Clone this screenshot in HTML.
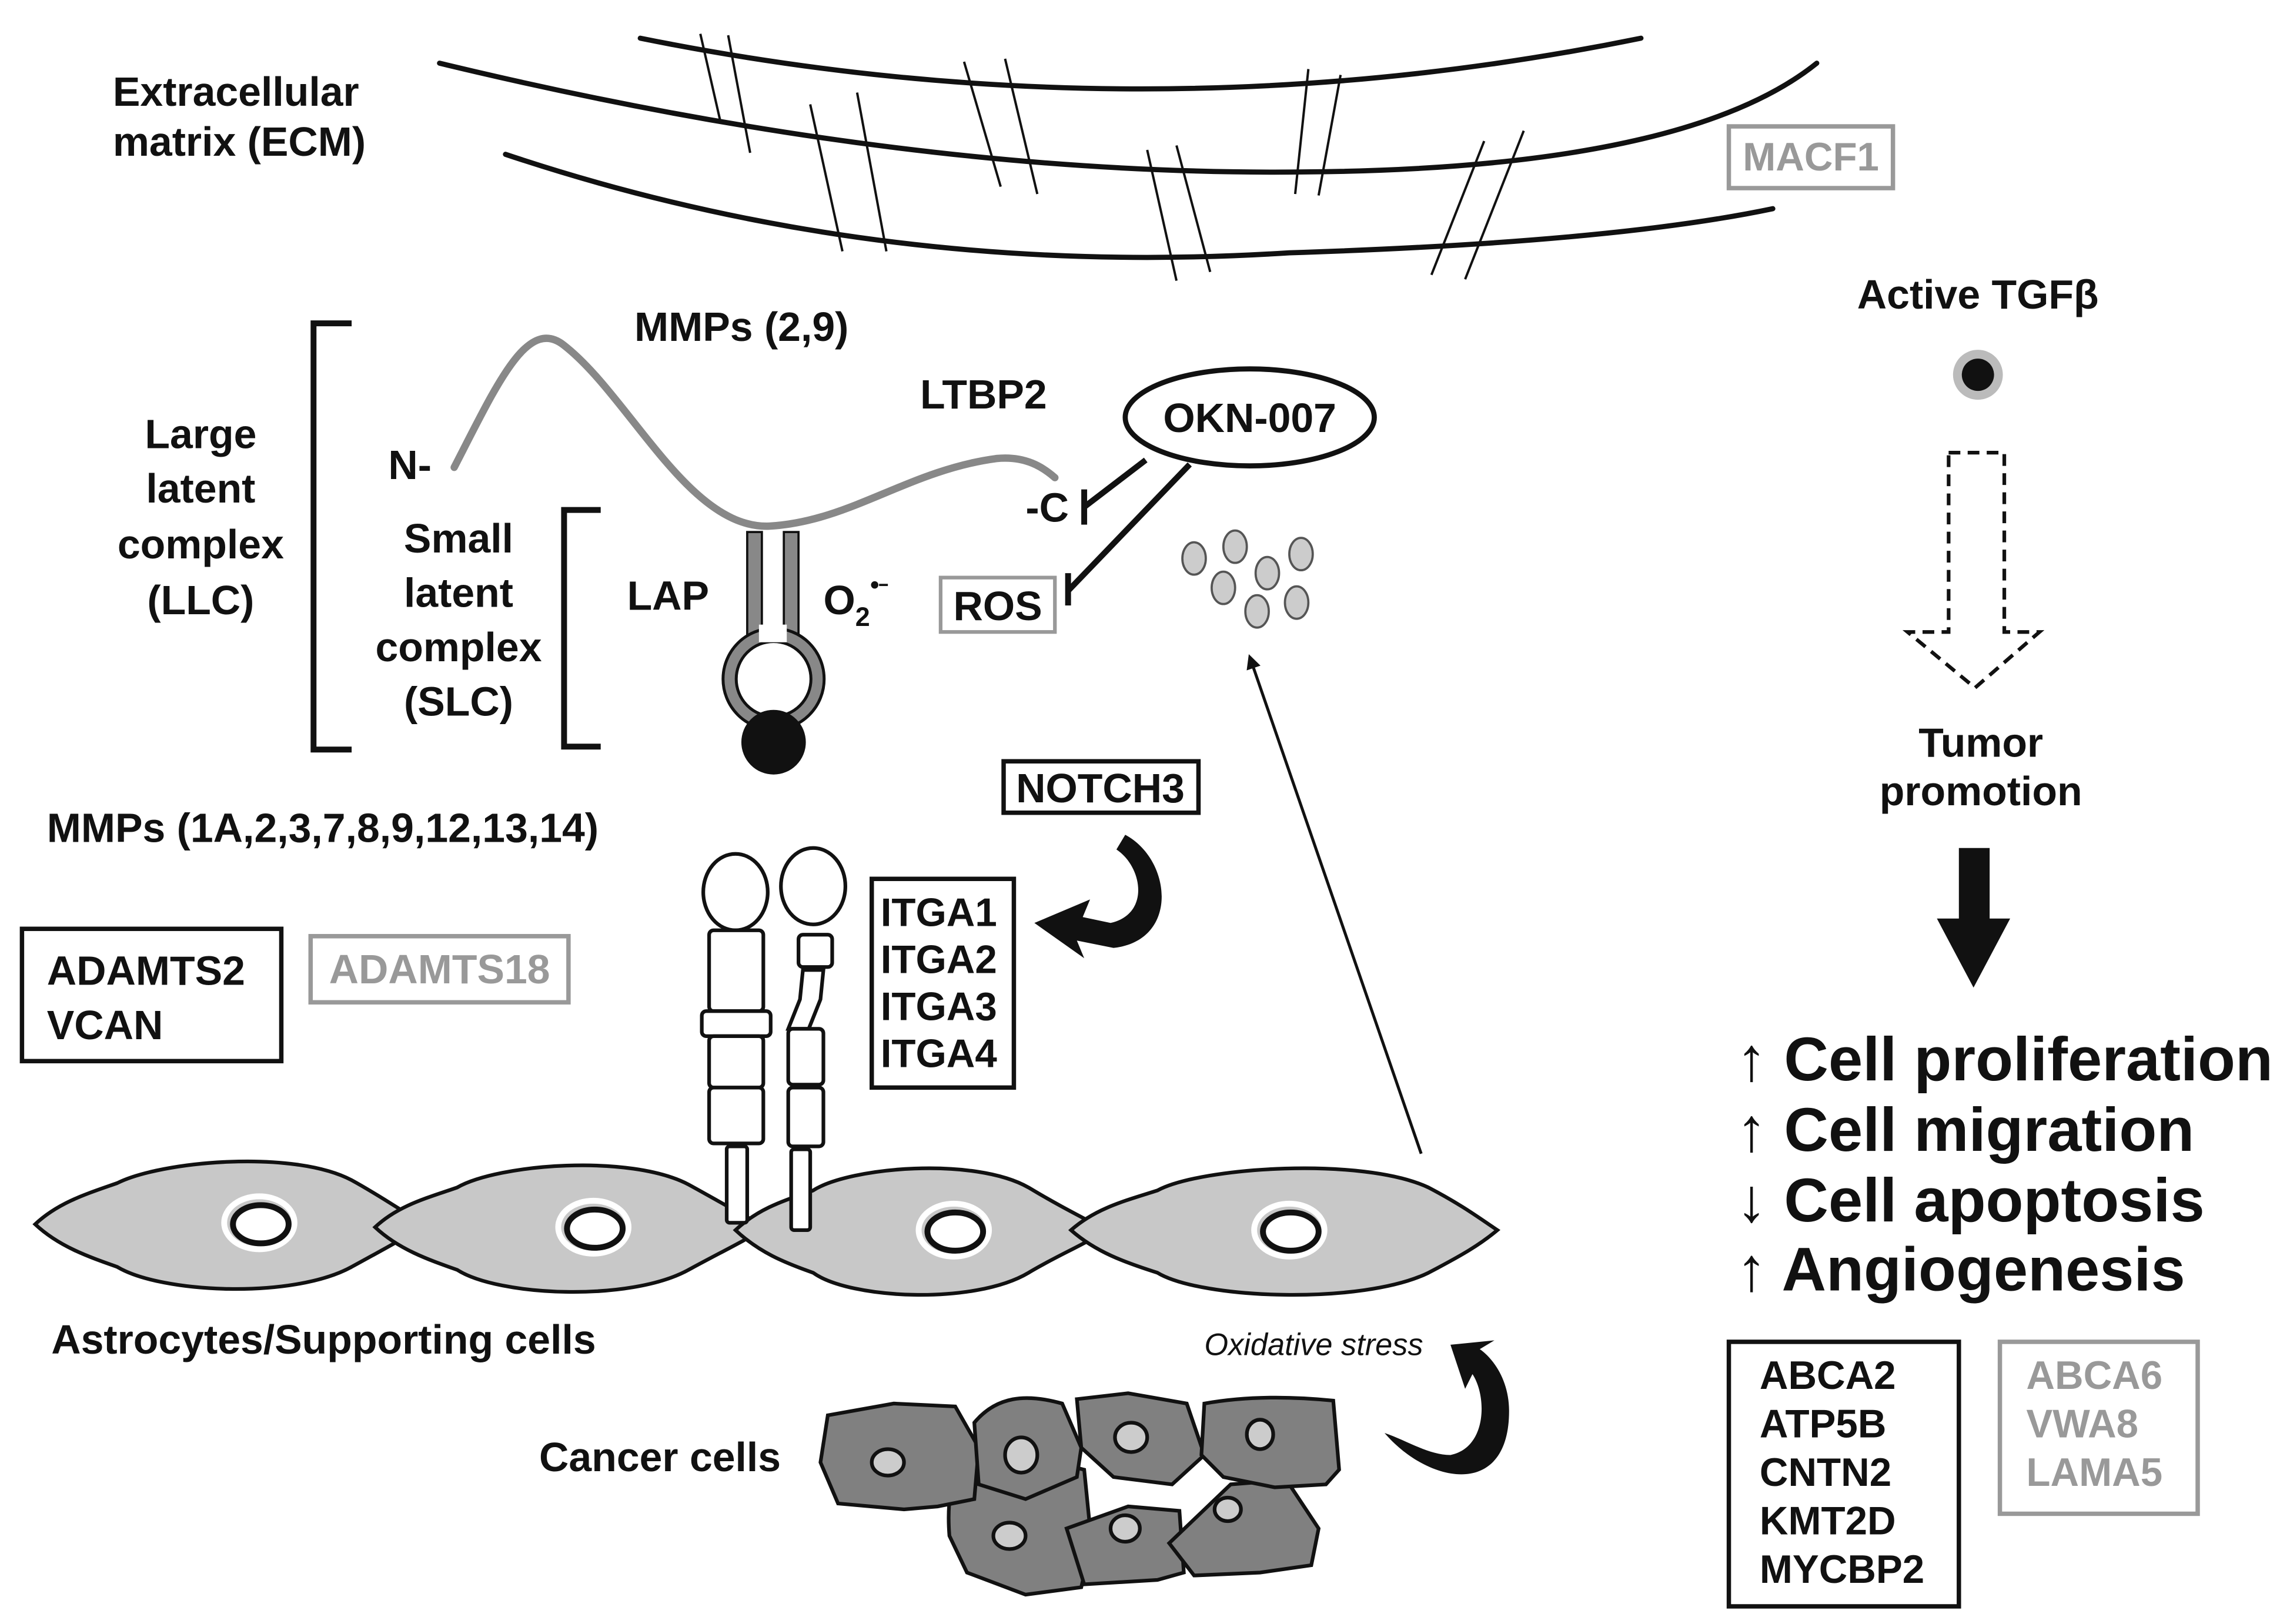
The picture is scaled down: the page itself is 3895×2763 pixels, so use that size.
<!DOCTYPE html>
<html><head><meta charset="utf-8"><style>
html,body{margin:0;padding:0;background:#fff;}
svg{display:block;}
text{font-family:"Liberation Sans",Arial,sans-serif;font-weight:bold;fill:#111;}
</style></head><body>
<svg width="3895" height="2763" viewBox="0 0 1563 1105" preserveAspectRatio="none" xmlns="http://www.w3.org/2000/svg">
<defs>
<marker id="ah" markerWidth="10" markerHeight="10" refX="8" refY="5" orient="auto" markerUnits="userSpaceOnUse"><path d="M0,0 L10,5 L0,10 Z" fill="#111"/></marker>
</defs>
<!-- ECM -->
<g fill="none" stroke="#111" stroke-width="3.5" stroke-linecap="round">
<path d="M437,26 Q780,95 1120,26"/>
<path d="M300,43 Q620,120 890,117 Q1150,115 1240,43"/>
<path d="M345,105 Q600,190 880,172 Q1100,165 1210,142"/>
</g>
<g stroke="#111" stroke-width="1.6">
<line x1="478" y1="23" x2="492" y2="84"/><line x1="497" y1="24" x2="512" y2="104"/>
<line x1="553" y1="71" x2="575" y2="171"/><line x1="585" y1="63" x2="605" y2="171"/>
<line x1="658" y1="42" x2="683" y2="127"/><line x1="686" y1="40" x2="708" y2="132"/>
<line x1="893" y1="47" x2="884" y2="132"/><line x1="915" y1="51" x2="900" y2="133"/>
<line x1="783" y1="102" x2="803" y2="191"/><line x1="803" y1="99" x2="826" y2="185"/>
<line x1="1013" y1="96" x2="977" y2="187"/><line x1="1040" y1="89" x2="1000" y2="190"/>
</g>
<text x="77" y="72" font-size="28">Extracellular</text>
<text x="77" y="106" font-size="28">matrix (ECM)</text>
<rect x="1180" y="86" width="112" height="42" fill="none" stroke="#999" stroke-width="3"/>
<text x="1236" y="116" font-size="27" text-anchor="middle" style="fill:#999">MACF1</text>

<!-- TGF side -->
<text x="1350" y="210" font-size="28" text-anchor="middle">Active TGFβ</text>
<circle cx="1350" cy="255" r="17" fill="#bbb"/><circle cx="1350" cy="255" r="11" fill="#111"/>
<path d="M1330,308 L1368,308 L1368,430 L1392,430 L1348,468 L1302,430 L1330,430 Z" fill="none" stroke="#111" stroke-width="2.5" stroke-dasharray="8,5"/>
<text x="1352" y="515" font-size="28" text-anchor="middle">Tumor</text>
<text x="1352" y="548" font-size="28" text-anchor="middle">promotion</text>
<path d="M1337,577 L1358,577 L1358,625 L1372,625 L1347,672 L1322,625 L1337,625 Z" fill="#111"/>
<g font-size="42">
<text x="1185" y="735">↑ Cell proliferation</text>
<text x="1185" y="783">↑ Cell migration</text>
<text x="1185" y="831">↓ Cell apoptosis</text>
<text x="1185" y="878">↑ Angiogenesis</text>
</g>
<rect x="1180" y="913" width="157" height="180" fill="none" stroke="#111" stroke-width="3"/>
<g font-size="27"><text x="1201" y="945">ABCA2</text><text x="1201" y="978">ATP5B</text><text x="1201" y="1011">CNTN2</text><text x="1201" y="1044">KMT2D</text><text x="1201" y="1077">MYCBP2</text></g>
<rect x="1365" y="913" width="135" height="117" fill="none" stroke="#999" stroke-width="3"/>
<g font-size="27"><text x="1383" y="945" style="fill:#999">ABCA6</text><text x="1383" y="978" style="fill:#999">VWA8</text><text x="1383" y="1011" style="fill:#999">LAMA5</text></g>

<!-- brackets -->
<path d="M240,220 L214,220 L214,510 L240,510" fill="none" stroke="#111" stroke-width="4"/>
<path d="M410,347 L385,347 L385,508 L410,508" fill="none" stroke="#111" stroke-width="4"/>
<g font-size="28" text-anchor="middle">
<text x="137" y="305">Large</text><text x="137" y="342">latent</text><text x="137" y="380">complex</text><text x="137" y="418">(LLC)</text>
<text x="313" y="376">Small</text><text x="313" y="413">latent</text><text x="313" y="450">complex</text><text x="313" y="487">(SLC)</text>
</g>
<text x="433" y="232" font-size="28">MMPs (2,9)</text>
<text x="628" y="278" font-size="28">LTBP2</text>
<text x="265" y="326" font-size="28">N-</text>
<text x="700" y="355" font-size="28">-C</text>
<path d="M310,318 C340,260 360,215 385,235 C430,270 470,360 525,358 C580,355 620,320 680,312 C700,310 712,318 720,325" fill="none" stroke="#888" stroke-width="5" stroke-linecap="round"/>
<ellipse cx="853" cy="284" rx="85" ry="33" fill="#fff" stroke="#111" stroke-width="3.5"/>
<text x="853" y="294" font-size="28" text-anchor="middle">OKN-007</text>
<g stroke="#111" stroke-width="4">
<line x1="782" y1="313" x2="740" y2="345"/><line x1="740" y1="333" x2="740" y2="357"/>
<line x1="812" y1="316" x2="729" y2="402"/><line x1="729" y1="390" x2="729" y2="412"/>
</g>
<rect x="642" y="393" width="78" height="37" fill="none" stroke="#999" stroke-width="2.5"/>
<text x="681" y="422" font-size="28" text-anchor="middle">ROS</text>
<text x="562" y="418" font-size="28">O<tspan font-size="18" dy="8">2</tspan></text>
<circle cx="597" cy="398" r="2.5" fill="#111"/><line x1="600" y1="398" x2="606" y2="398" stroke="#111" stroke-width="1.5"/>
<text x="428" y="415" font-size="28">LAP</text>
<!-- LAP structure -->
<g fill="#888" stroke="#111" stroke-width="1.5">
<rect x="510" y="362" width="10" height="72"/><rect x="535" y="362" width="10" height="72"/>
</g>
<circle cx="528" cy="462" r="30" fill="none" stroke="#111" stroke-width="11"/>
<circle cx="528" cy="462" r="30" fill="none" stroke="#888" stroke-width="7"/>
<rect x="518" y="425" width="19" height="12" fill="#fff"/>
<circle cx="528" cy="505" r="22" fill="#111"/>
<g fill="#ccc" stroke="#555" stroke-width="1.5">
<ellipse cx="815" cy="380" rx="8" ry="11"/><ellipse cx="843" cy="372" rx="8" ry="11"/><ellipse cx="865" cy="390" rx="8" ry="11"/>
<ellipse cx="888" cy="377" rx="8" ry="11"/><ellipse cx="835" cy="400" rx="8" ry="11"/><ellipse cx="858" cy="416" rx="8" ry="11"/><ellipse cx="885" cy="410" rx="8" ry="11"/>
</g>
<line x1="970" y1="785" x2="853" y2="447" stroke="#111" stroke-width="2" marker-end="url(#ah)"/>
<rect x="685" y="518" width="133" height="35" fill="none" stroke="#111" stroke-width="3"/>
<text x="751" y="546" font-size="28" text-anchor="middle">NOTCH3</text>
<path d="M768,568 C800,585 805,640 760,645 L735,640 L740,652 L706,628 L744,612 L739,624 L758,628 C785,622 780,590 762,578 Z" fill="#111"/>
<rect x="595" y="598" width="97" height="142" fill="none" stroke="#111" stroke-width="3"/>
<g font-size="27"><text x="601" y="630">ITGA1</text><text x="601" y="662">ITGA2</text><text x="601" y="694">ITGA3</text><text x="601" y="726">ITGA4</text></g>
<text x="32" y="573" font-size="28">MMPs (1A,2,3,7,8,9,12,13,14)</text>
<rect x="15" y="632" width="177" height="90" fill="none" stroke="#111" stroke-width="3"/>
<text x="32" y="670" font-size="28">ADAMTS2</text><text x="32" y="707" font-size="28">VCAN</text>
<rect x="212" y="637" width="176" height="45" fill="none" stroke="#999" stroke-width="3"/>
<text x="300" y="669" font-size="28" text-anchor="middle" style="fill:#999">ADAMTS18</text>

<!-- astrocytes -->
<g fill="#c8c8c8" stroke="#111" stroke-width="2.5">
<path d="M24,833 C40,818 60,812 80,805 C110,790 200,782 240,803 C262,815 275,825 291,833 C275,843 262,850 240,862 C200,884 110,880 80,862 C60,855 40,848 24,833 Z"/>
<path d="M256,835 C272,820 292,815 312,808 C340,792 430,785 470,806 C492,818 507,827 523,835 C507,845 492,852 470,864 C430,886 340,882 312,864 C292,857 272,850 256,835 Z"/>
<path d="M502,837 C518,822 535,817 555,810 C580,794 665,787 702,808 C722,820 740,829 755,837 C740,847 722,854 702,866 C665,888 580,884 555,866 C535,859 518,852 502,837 Z"/>
<path d="M731,837 C748,822 768,817 790,810 C820,794 930,787 975,808 C998,820 1010,829 1022,837 C1010,847 998,854 975,866 C930,888 820,884 790,866 C768,859 748,852 731,837 Z"/>
</g>
<g fill="none">
<ellipse cx="177" cy="832" rx="24" ry="18" stroke="#fff" stroke-width="4"/><ellipse cx="405" cy="835" rx="24" ry="18" stroke="#fff" stroke-width="4"/><ellipse cx="651" cy="837" rx="24" ry="18" stroke="#fff" stroke-width="4"/><ellipse cx="880" cy="837" rx="24" ry="18" stroke="#fff" stroke-width="4"/>
</g>
<g fill="#fff" stroke="#111" stroke-width="4">
<ellipse cx="178" cy="833" rx="19" ry="13"/><ellipse cx="406" cy="836" rx="19" ry="13"/><ellipse cx="652" cy="838" rx="19" ry="13"/><ellipse cx="881" cy="838" rx="19" ry="13"/>
</g>
<!-- integrins -->
<g fill="#fff" stroke="#111" stroke-width="2.5">
<ellipse cx="502" cy="607" rx="22" ry="26"/>
<rect x="484" y="633" width="37" height="55" rx="3"/><rect x="479" y="688" width="47" height="17" rx="3"/>
<rect x="484" y="705" width="37" height="35" rx="3"/><rect x="484" y="740" width="37" height="38" rx="3"/>
<rect x="496" y="780" width="14" height="52" rx="2"/>
<ellipse cx="555" cy="603" rx="22" ry="26"/>
<rect x="545" y="636" width="23" height="22" rx="3"/><path d="M548,660 L562,660 L560,680 L552,700 L538,700 L546,680 Z"/>
<rect x="538" y="700" width="24" height="38" rx="3"/><rect x="538" y="740" width="24" height="40" rx="3"/>
<rect x="540" y="782" width="13" height="55" rx="2"/>
</g>
<text x="35" y="921" font-size="28">Astrocytes/Supporting cells</text>
<text x="822" y="922" font-size="21" font-style="italic" style="font-weight:normal">Oxidative stress</text>
<path d="M945,975 C975,1010 1030,1020 1030,960 C1030,940 1020,925 1010,918 L1020,912 L990,915 L1000,945 L1005,935 C1015,950 1015,985 990,990 C975,990 960,980 945,975 Z" fill="#111"/>
<text x="368" y="1001" font-size="28">Cancer cells</text>
<!-- cancer cells -->
<g fill="#808080" stroke="#111" stroke-width="2.5">
<path d="M648,1045 C646,1020 650,1000 660,992 L700,990 L740,1000 L745,1050 L738,1080 L700,1085 L660,1070 Z"/>
<path d="M728,1040 L770,1025 L805,1028 L808,1070 L790,1075 L740,1078 Z"/>
<path d="M798,1050 L840,1010 L878,1007 L900,1040 L895,1065 L860,1070 L815,1072 Z"/>
<path d="M565,963 L610,955 L652,957 L668,985 L665,1020 L640,1025 L617,1027 L572,1023 L560,995 Z"/>
<path d="M665,968 C680,950 700,948 725,955 L738,985 L735,1005 L700,1020 L668,1010 Z"/>
<path d="M735,952 L770,948 L810,955 L822,990 L800,1010 L760,1005 L738,985 Z"/>
<path d="M822,955 C850,950 880,950 910,953 L914,1000 L905,1010 L870,1012 L835,1005 L820,990 Z"/>
</g>
<g fill="#ccc" stroke="#111" stroke-width="2.5">
<ellipse cx="606" cy="995" rx="11" ry="9"/><ellipse cx="697" cy="990" rx="11" ry="12"/><ellipse cx="772" cy="978" rx="11" ry="10"/>
<ellipse cx="860" cy="976" rx="9" ry="10"/><ellipse cx="689" cy="1045" rx="11" ry="9"/><ellipse cx="768" cy="1040" rx="10" ry="9"/><ellipse cx="838" cy="1027" rx="9" ry="8"/>
</g>
</svg>
</body></html>
